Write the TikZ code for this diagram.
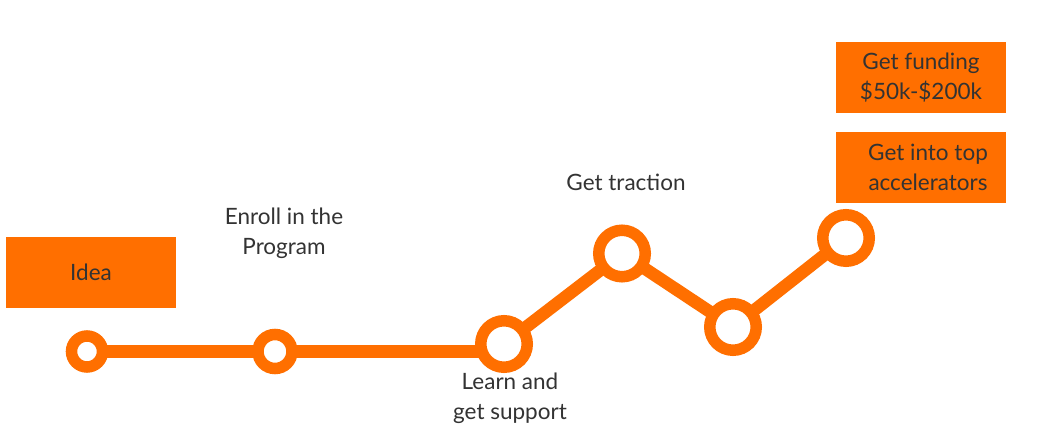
\documentclass[tikz,border=0pt]{standalone}
\usepackage{fontspec}
\setmainfont{Lato}
\usetikzlibrary{backgrounds}
\definecolor{orng}{HTML}{FF6F00}
\definecolor{txt}{HTML}{333333}
\begin{document}
\begin{tikzpicture}[x=1pt,y=-1pt,
  ring/.style={circle,draw=orng,fill=white,inner sep=0pt,outer sep=0pt},
  smallring/.style={ring,line width=11.5pt,minimum size=#1},
  bigring/.style={ring,line width=11.5pt,minimum size=46.5pt},
  link/.style={draw=orng,line width=12.5pt},
  obox/.style={fill=orng,minimum width=170pt,minimum height=71pt,inner sep=0pt,text=txt,align=center,font=\fontsize{22.5}{30}\selectfont},
  lbl/.style={text=txt,align=center,font=\fontsize{22.5}{30}\selectfont}]
\useasboundingbox (0,0) rectangle (1050,430);
% boxes
\node[obox] (idea) at (91,272.5) {Idea};
\node[obox] (fund) at (921,77.5) {Get funding\\\$50k-\$200k};
\node[obox] (acc) at (921,167.5) {\hspace*{14pt}Get into top\\\hspace*{14pt}accelerators};
% circles
\node[smallring=31pt] (c1) at (87,351.5) {};
\node[smallring=34pt] (c2) at (275,351.5) {};
\node[bigring] (c3) at (504,344) {};
\node[bigring] (c4) at (622,253.5) {};
\node[bigring] (c5) at (733,327) {};
\node[bigring] (c6) at (846,238) {};
% connectors
\begin{scope}[on background layer]
\fill[white] (0,0) rectangle (1050,430);
\draw[link] (c1) -- (c2);
\draw[link] (c2) -- (c2 -| c3);
\draw[link] (c3) -- (c4);
\draw[link] (c4) -- (c5);
\draw[link] (c5) -- (c6);
\end{scope}
% labels
\node[lbl] (l2) at (284,233) {Enroll in the\\Program};
\node[lbl] (l4) at (626,182) {Get traction};
\node[lbl] (l3) at (510,398.5) {Learn and\\get support};
\end{tikzpicture}
\end{document}
